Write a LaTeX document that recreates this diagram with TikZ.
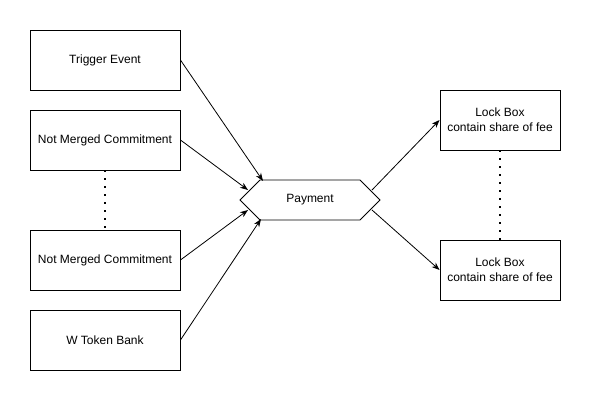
\documentclass[tikz,border=0pt]{standalone}
\usepackage{fontspec}
\setmainfont{Liberation Sans}
\usetikzlibrary{arrows.meta,shapes.symbols,calc}

\tikzset{
  box/.style={draw, line width=0.9pt, minimum width=150pt, minimum height=60pt, inner sep=0pt, font=\fontsize{12}{15}\selectfont},
  lockbox/.style={box, minimum width=120pt, align=center},
  hexa/.style={draw, line width=0.9pt, shape=signal, signal to=west and east, signal pointer angle=90, minimum width=140pt, minimum height=40pt, inner sep=0pt, font=\fontsize{12}{15}\selectfont},
  flow/.style={-{Stealth[length=8pt,width=6pt]}, line width=0.8pt},
  dots/.style={line width=2pt, dash pattern=on 2pt off 6pt}
}

\begin{document}
\begin{tikzpicture}[x=1pt,y=-1pt]

    % Area
    \useasboundingbox (0,0) rectangle (591,401);

    % Sorgenti
    \node[box] (trig) at (105,60) {Trigger Event};
    \node[box] (nmA) at (105,140) {Not Merged Commitment};
    \node[box] (nmB) at (105,260) {Not Merged Commitment};
    \node[box] (bank) at (105,340) {W Token Bank};

    % Pagamento
    \node[hexa] (pay) at (310,200) {Payment};

    % Destinazioni
    \node[lockbox] (lockA) at (500,120) {Lock Box\\contain share of fee};
    \node[lockbox] (lockB) at (500,270) {Lock Box\\contain share of fee};

    % Frecce
    \draw[flow] (trig.east) -- ($(pay.center)+(-47,-19)$);
    \draw[flow] (nmA.east) -- ($(pay.center)+(-62,-10)$);
    \draw[flow] (nmB.east) -- ($(pay.center)+(-62,10)$);
    \draw[flow] (bank.east) -- ($(pay.center)+(-49,19)$);
    \draw[flow] ($(pay.center)+(62,-10)$) -- (lockA.west);
    \draw[flow] ($(pay.center)+(62,10)$) -- (lockB.west);

    % Puntini
    \draw[dots] (nmA.south) -- (nmB.north);
    \draw[dots] (lockA.south) -- (lockB.north);

\end{tikzpicture}
\end{document}
